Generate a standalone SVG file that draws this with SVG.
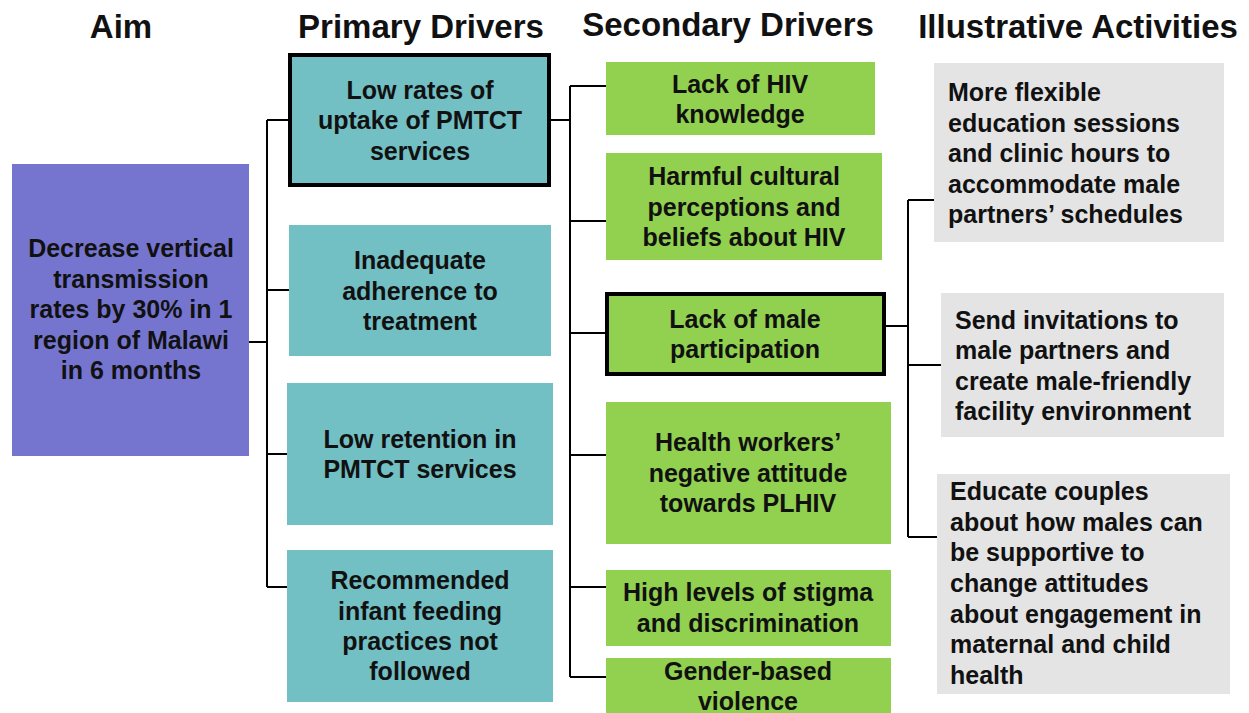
<svg xmlns="http://www.w3.org/2000/svg" width="1249" height="713" viewBox="0 0 1249 713">
<style>
text{font-family:"Liberation Sans",Arial,sans-serif;font-weight:bold;fill:#111;}
.h{font-size:33px;text-anchor:middle;}
.t{font-size:25px;text-anchor:middle;}
.l{font-size:25px;text-anchor:start;}
.aim{fill:#7575D0;}
.pd{fill:#72BFC4;}
.sd{fill:#92D050;}
.ia{fill:#E4E4E4;}
.hl{stroke:#000;stroke-width:4;}
.c{stroke:#000;stroke-width:2;fill:none;}
</style>
<rect width="1249" height="713" fill="#fff"/>
<g id="headers">
<text class="h" x="121" y="38">Aim</text>
<text class="h" x="421" y="38">Primary Drivers</text>
<text class="h" x="728" y="36">Secondary Drivers</text>
<text class="h" x="1078" y="38">Illustrative Activities</text>
</g>
<g id="connectors">
<path class="c" d="M243 342H267M267 120V587M267 120H289M267 290H289M267 454H287M267 587H287"/>
<path class="c" d="M551 120H570M570 86V677M570 86H606M570 221H606M570 333H605M570 455H606M570 587H606M570 677H606"/>
<path class="c" d="M886 326H908M908 200V537M908 200H934M908 365H941M908 537H937"/>
</g>
<g id="aim">
<rect class="aim" x="12" y="164" width="237" height="292"/>
<text class="t" x="131" y="257">Decrease vertical</text>
<text class="t" x="131" y="288">transmission</text>
<text class="t" x="131" y="318">rates by 30% in 1</text>
<text class="t" x="131" y="349">region of Malawi</text>
<text class="t" x="131" y="379">in 6 months</text>
</g>
<g id="pd1">
<rect class="pd hl" x="290" y="55" width="259" height="130"/>
<text class="t" x="420" y="99">Low rates of</text>
<text class="t" x="420" y="129">uptake of PMTCT</text>
<text class="t" x="420" y="160">services</text>
</g>
<g id="pd2">
<rect class="pd" x="289" y="225" width="262" height="131"/>
<text class="t" x="420" y="269">Inadequate</text>
<text class="t" x="420" y="300">adherence to</text>
<text class="t" x="420" y="330">treatment</text>
</g>
<g id="pd3">
<rect class="pd" x="287" y="383" width="266" height="142"/>
<text class="t" x="420" y="448">Low retention in</text>
<text class="t" x="420" y="478">PMTCT services</text>
</g>
<g id="pd4">
<rect class="pd" x="287" y="550" width="266" height="152"/>
<text class="t" x="420" y="589">Recommended</text>
<text class="t" x="420" y="620">infant feeding</text>
<text class="t" x="420" y="650">practices not</text>
<text class="t" x="420" y="680">followed</text>
</g>
<g id="sd1">
<rect class="sd" x="606" y="62" width="269" height="73"/>
<text class="t" x="740" y="93">Lack of HIV</text>
<text class="t" x="740" y="123">knowledge</text>
</g>
<g id="sd2">
<rect class="sd" x="606" y="153" width="276" height="107"/>
<text class="t" x="744" y="185">Harmful cultural</text>
<text class="t" x="744" y="216">perceptions and</text>
<text class="t" x="744" y="246">beliefs about HIV</text>
</g>
<g id="sd3">
<rect class="sd hl" x="607" y="294" width="277" height="80"/>
<text class="t" x="745" y="328">Lack of male</text>
<text class="t" x="745" y="358">participation</text>
</g>
<g id="sd4">
<rect class="sd" x="606" y="402" width="285" height="142"/>
<text class="t" x="748" y="451">Health workers’</text>
<text class="t" x="748" y="482">negative attitude</text>
<text class="t" x="748" y="512">towards PLHIV</text>
</g>
<g id="sd5">
<rect class="sd" x="606" y="570" width="285" height="76"/>
<text class="t" x="748" y="601">High levels of stigma</text>
<text class="t" x="748" y="632">and discrimination</text>
</g>
<g id="sd6">
<rect class="sd" x="606" y="658" width="285" height="60"/>
<text class="t" x="748" y="680">Gender-based</text>
<text class="t" x="748" y="710">violence</text>
</g>
<g id="ia1">
<rect class="ia" x="934" y="63" width="290" height="179"/>
<text class="l" x="948" y="101">More flexible</text>
<text class="l" x="948" y="132">education sessions</text>
<text class="l" x="948" y="162">and clinic hours to</text>
<text class="l" x="948" y="193">accommodate male</text>
<text class="l" x="948" y="223">partners’ schedules</text>
</g>
<g id="ia2">
<rect class="ia" x="941" y="293" width="283" height="144"/>
<text class="l" x="955" y="329">Send invitations to</text>
<text class="l" x="955" y="359">male partners and</text>
<text class="l" x="955" y="390">create male-friendly</text>
<text class="l" x="955" y="420">facility environment</text>
</g>
<g id="ia3">
<rect class="ia" x="937" y="474" width="293" height="220"/>
<text class="l" x="950" y="500">Educate couples</text>
<text class="l" x="950" y="531">about how males can</text>
<text class="l" x="950" y="561">be supportive to</text>
<text class="l" x="950" y="592">change attitudes</text>
<text class="l" x="950" y="623">about engagement in</text>
<text class="l" x="950" y="653">maternal and child</text>
<text class="l" x="950" y="684">health</text>
</g>
</svg>
